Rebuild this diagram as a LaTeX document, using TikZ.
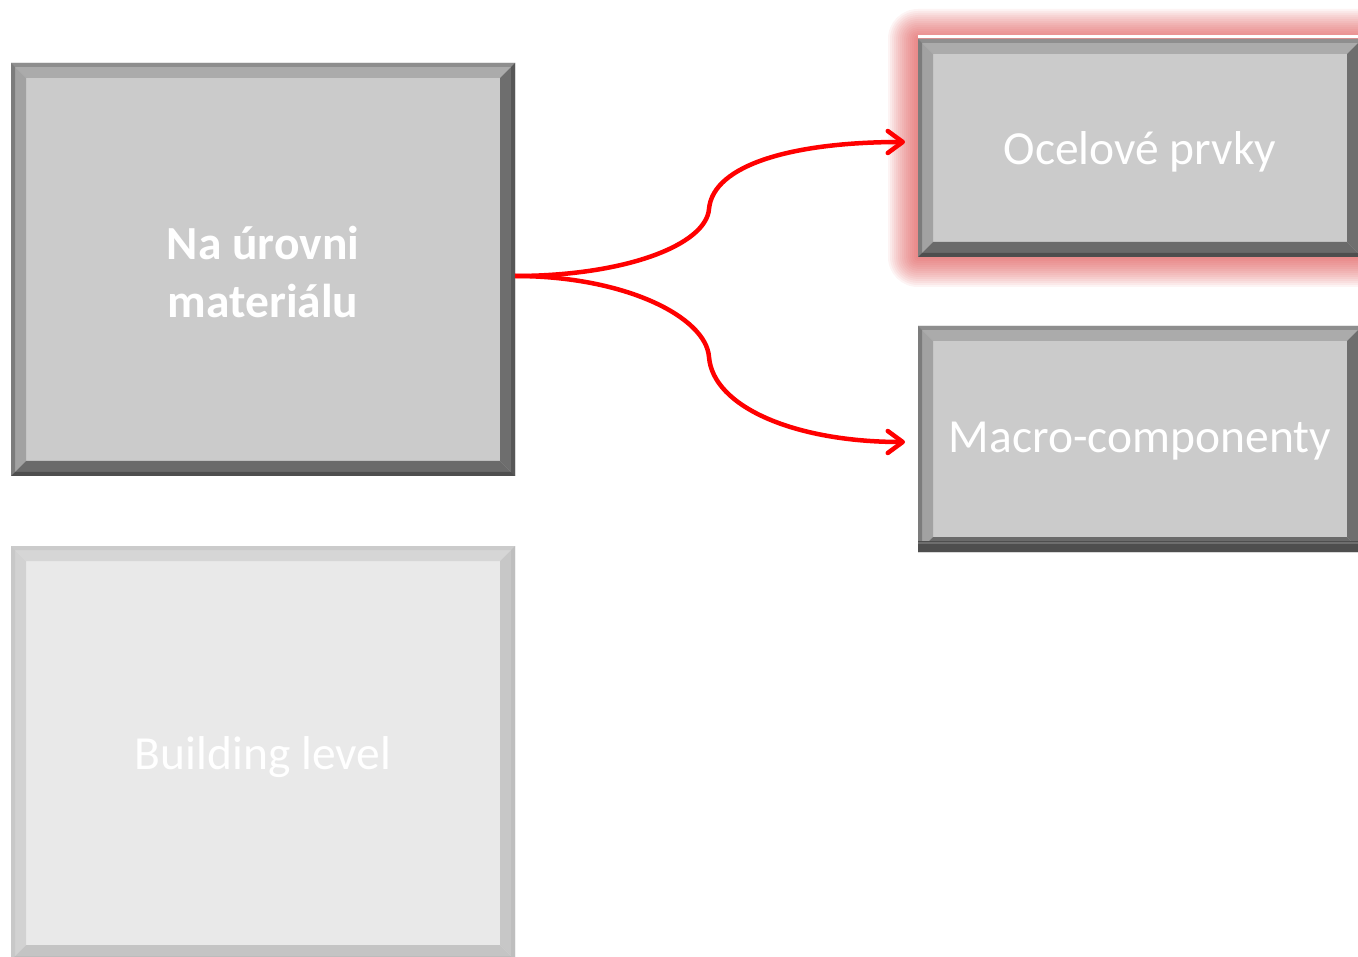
\documentclass[tikz,border=0pt]{standalone}
\usepackage{fontspec}
\setmainfont{Carlito}
\usetikzlibrary{arrows.meta,calc}

\definecolor{faceD}{HTML}{CBCBCB}
\definecolor{topD}{HTML}{ABABAB}
\definecolor{topDo}{HTML}{8E8E8E}
\definecolor{leftD}{HTML}{A2A2A2}
\definecolor{leftDo}{HTML}{7C7C7C}
\definecolor{rightD}{HTML}{6E6E6E}
\definecolor{rightDo}{HTML}{575757}
\definecolor{botD}{HTML}{6A6A6A}
\definecolor{botDo}{HTML}{4E4E4E}
\definecolor{faceL}{HTML}{E9E9E9}
\definecolor{topL}{HTML}{D6D6D6}
\definecolor{topLo}{HTML}{CBCBCB}
\definecolor{leftL}{HTML}{D2D2D2}
\definecolor{leftLo}{HTML}{C8C8C8}
\definecolor{rightL}{HTML}{C7C7C7}
\definecolor{rightLo}{HTML}{BEBEBE}
\definecolor{botL}{HTML}{C4C4C4}
\definecolor{botLo}{HTML}{BCBCBC}
\definecolor{glowred}{RGB}{218,60,60}
\definecolor{arrowred}{HTML}{FF0000}

% bevelled frame around a node: name, width, top, left, right, bottom colours
\newcommand{\bevelframe}[6]{%
  \fill[#3] (#1.north west) -- (#1.north east) -- ($(#1.north east)+(-#2,#2)$) -- ($(#1.north west)+(#2,#2)$) -- cycle;
  \fill[#4] (#1.north west) -- ($(#1.north west)+(#2,#2)$) -- ($(#1.south west)+(#2,-#2)$) -- (#1.south west) -- cycle;
  \fill[#5] (#1.north east) -- ($(#1.north east)+(-#2,#2)$) -- ($(#1.south east)+(-#2,-#2)$) -- (#1.south east) -- cycle;
  \fill[#6] (#1.south west) -- ($(#1.south west)+(#2,-#2)$) -- ($(#1.south east)+(-#2,-#2)$) -- (#1.south east) -- cycle;
}

\tikzset{
  panel/.style={rectangle, inner sep=0pt, outer sep=0pt},
  darkpanel/.style={panel, fill=faceD},
  lightpanel/.style={panel, fill=faceL},
  paneltext/.style={text=white, align=center, inner sep=0pt,
    font=\fontsize{47.5}{58}\selectfont},
  link/.style={draw=arrowred, line width=4.5pt,
    -{Straight Barb[length=15pt,width=22pt,round]}},
}

\begin{document}
\begin{tikzpicture}[x=1pt,y=-1pt]
\useasboundingbox (0,0) rectangle (1358,957);
\clip (0,0) rectangle (1358,957);

% soft red glow behind the upper right panel
\foreach \d in {30,28,...,2}{
  \fill[glowred, opacity=0.06, rounded corners=\d pt]
    ($(918,39)+(-\d,-\d)$) rectangle ($(1362,257)+(\d,\d)$);
}
\fill[white] (918,35.5) rectangle (1362,38.5);

% panels
\node[darkpanel, minimum width=504pt, minimum height=413pt] (mat) at (263,269.5) {};
\bevelframe{mat}{15}{topD}{leftD}{rightD}{botD}
\bevelframe{mat}{4}{topDo}{leftDo}{rightDo}{botDo}
\node[paneltext, font=\bfseries\fontsize{47.5}{58}\selectfont]
  (matlabel) at ([yshift=-3pt]mat.center) {Na úrovni\\materiálu};

\node[darkpanel, minimum width=444pt, minimum height=218pt] (ocel) at (1140,148) {};
\bevelframe{ocel}{15}{topD}{leftD}{rightD}{botD}
\bevelframe{ocel}{4}{topDo}{leftDo}{rightDo}{botDo}
\node[paneltext] (ocellabel) at ([yshift=-4pt]ocel.center) {Ocelové prvky};

\node[darkpanel, minimum width=444pt, minimum height=226pt] (macro) at (1140,439) {};
\bevelframe{macro}{15}{topD}{leftD}{rightD}{botD}
\bevelframe{macro}{4}{topDo}{leftDo}{rightDo}{botDo}
\fill[botDo] ($(macro.south west)+(0,-11)$) rectangle (macro.south east);
\fill[rightD] ($(macro.south west)+(0,-10)$) rectangle ($(macro.south east)+(0,-8.5)$);
\node[paneltext] (macrolabel) at ([yshift=-2pt]macro.center) {Macro-componenty};

\node[lightpanel, minimum width=504pt, minimum height=414pt] (bldg) at (263,753) {};
\bevelframe{bldg}{15}{topL}{leftL}{rightL}{botL}
\bevelframe{bldg}{4}{topLo}{leftLo}{rightLo}{botLo}
\node[paneltext] (bldglabel) at ([yshift=-4pt]bldg.center) {Building level};

% connectors
\coordinate (bendup) at (709,209);
\coordinate (benddown) at (709,357);
\draw[link] ([yshift=-6.5pt]mat.east) .. controls +(110,0) and +(-3,36) .. (bendup)
  .. controls +(4,-45) and +(-110,0) .. ([xshift=-13pt,yshift=6pt]ocel.west);
\draw[link] ([yshift=-6.5pt]mat.east) .. controls +(110,0) and +(-3,-40) .. (benddown)
  .. controls +(4,50) and +(-110,0) .. ([xshift=-13pt,yshift=-3pt]macro.west);
\end{tikzpicture}
\end{document}
